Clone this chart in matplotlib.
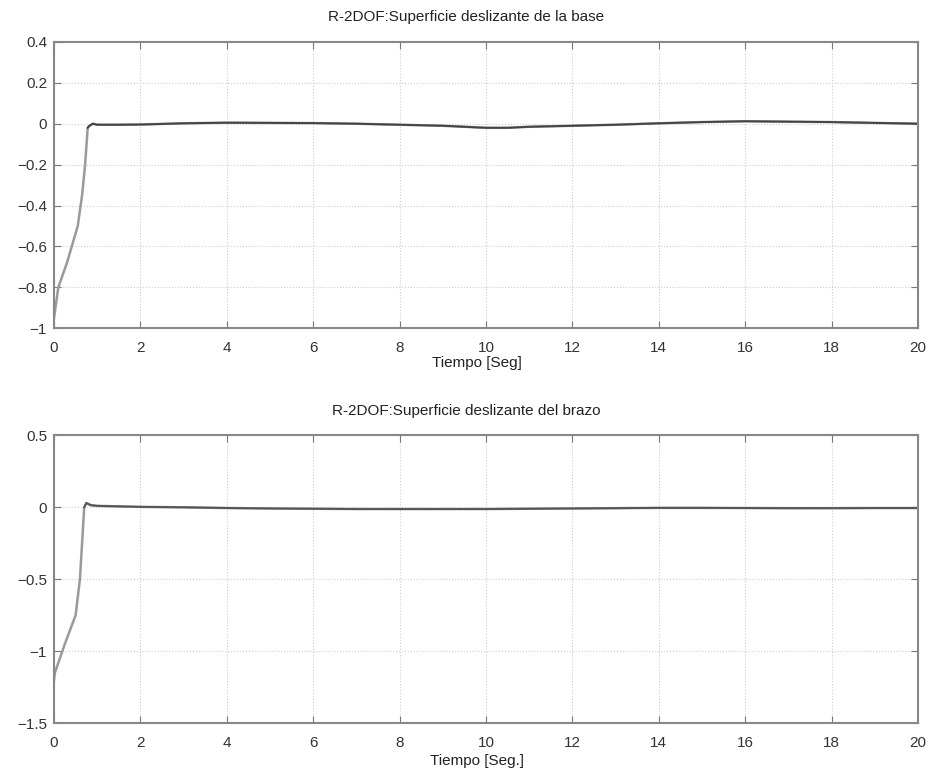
import numpy as np
import matplotlib.pyplot as plt

# Datos ---------------------------------------------------

t_base = [0.0, 0.1, 0.3, 0.55, 0.65, 0.72, 0.78, 0.82, 0.9, 1.0, 1.5, 2.0, 3.0, 4.0,
          5.0, 6.0, 7.0, 8.0, 9.0, 9.5, 10.0, 10.5, 11.0, 12.0, 13.0, 14.0, 15.0,
          16.0, 17.0, 18.0, 19.0, 20.0]
s_base = [-0.95, -0.8, -0.68, -0.5, -0.35, -0.2, -0.02, -0.01, 0.0, -0.005, -0.005,
          -0.004, 0.002, 0.005, 0.004, 0.003, 0.0, -0.005, -0.01, -0.015, -0.02, -0.02,
          -0.015, -0.01, -0.005, 0.002, 0.008, 0.012, 0.01, 0.008, 0.004, 0.0]

t_brazo = [0.0, 0.02, 0.25, 0.5, 0.6, 0.65, 0.7, 0.75, 0.85, 1.0, 2.0, 3.0, 4.0, 5.0,
           6.0, 7.0, 8.0, 9.0, 10.0, 11.0, 12.0, 13.0, 14.0, 15.0, 16.0, 17.0, 18.0,
           19.0, 20.0]
s_brazo = [-1.2, -1.15, -0.95, -0.75, -0.5, -0.25, 0.0, 0.03, 0.015, 0.01, 0.003,
           0.0, -0.005, -0.008, -0.01, -0.012, -0.012, -0.012, -0.012, -0.01, -0.008,
           -0.006, -0.004, -0.004, -0.005, -0.006, -0.006, -0.005, -0.005]

# Grafica -------------------------------------------------

plt.rcParams['font.family'] = ['Liberation Sans', 'DejaVu Sans']
fig = plt.figure(figsize=(9.31, 7.76), dpi=100)

ax1 = fig.add_axes([0.058, 0.577, 0.928, 0.369])
ax2 = fig.add_axes([0.058, 0.068, 0.928, 0.371])

def estilo(ax, titulo, xlab, ylim, yticks, ylab_pos):
    ax.set_xlim(0, 20)
    ax.set_ylim(*ylim)
    ax.set_xticks(np.arange(0, 21, 2))
    ax.set_yticks(yticks)
    ax.set_title(titulo, fontsize=11, color='#222222', pad=15, x=0.477)
    ax.set_xlabel(xlab, fontsize=11, color='#222222')
    ax.xaxis.set_label_coords(0.49, ylab_pos)
    ax.grid(True, ls=':', lw=0.8, color='#cccccc')
    ax.tick_params(direction='in', length=5, color='#777777', labelsize=11,
                   labelcolor='#333333', top=True, right=True)
    ax.tick_params(axis='x', pad=9)
    ax.tick_params(axis='y', pad=5)
    for s in ax.spines.values():
        s.set_color('#888888')
        s.set_linewidth(1.5)

ax1.plot(t_base, s_base, color='#9a9a9a', lw=1.8)
ax1.plot(t_base[6:], s_base[6:], color='#444444', lw=1.4)
estilo(ax1, 'R-2DOF:Superficie deslizante de la base', 'Tiempo [Seg]', (-1, 0.4),
       [-1, -0.8, -0.6, -0.4, -0.2, 0, 0.2, 0.4], -0.098)
ax1.set_yticklabels(['\u22121', '\u22120.8', '\u22120.6', '\u22120.4', '\u22120.2', '0', '0.2', '0.4'])

ax2.plot(t_brazo, s_brazo, color='#9a9a9a', lw=1.8)
ax2.plot(t_brazo[6:], s_brazo[6:], color='#555555', lw=1.4)
estilo(ax2, 'R-2DOF:Superficie deslizante del brazo', 'Tiempo [Seg.]', (-1.5, 0.5),
       [-1.5, -1, -0.5, 0, 0.5], -0.108)
ax2.set_yticklabels(['\u22121.5', '\u22121', '\u22120.5', '0', '0.5'])

fig.savefig('out.png', dpi=100)
